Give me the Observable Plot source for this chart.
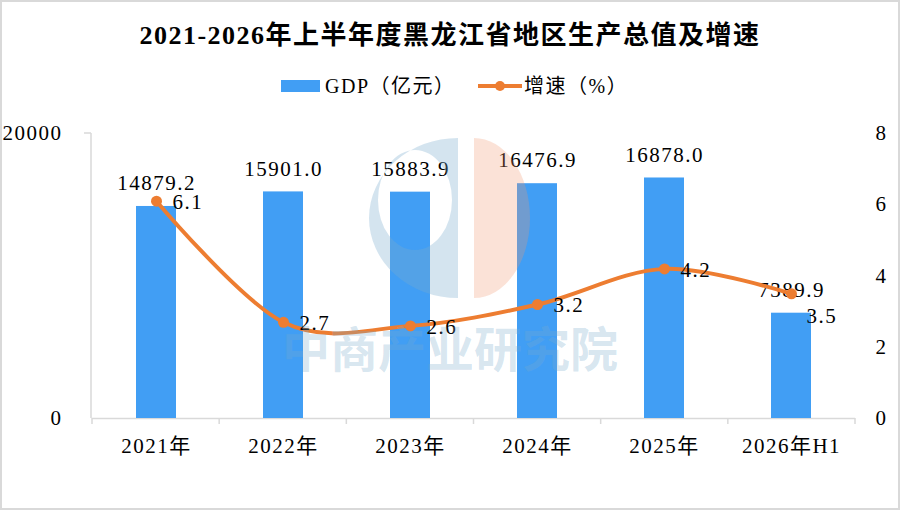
<!DOCTYPE html>
<html>
<head>
<meta charset="utf-8">
<script src="https://cdn.jsdelivr.net/npm/d3@7"></script>
<script src="https://cdn.jsdelivr.net/npm/@observablehq/plot@0.6"></script>
<style>
  html, body { margin: 0; padding: 0; background: #fff; }
  #page { position: relative; width: 900px; height: 510px; overflow: hidden; background: #fff;
          font-family: "Liberation Serif", "Noto Sans CJK SC", serif; }
  #border { position: absolute; left: 0; top: 0; width: 900px; height: 510px; box-sizing: border-box;
            border: 2px solid #d9d9d9; pointer-events: none; z-index: 5; }
  #title { position: absolute; left: 0; top: 20px; width: 900px; text-align: center;
           font-family: "Liberation Serif", "Noto Sans CJK SC", serif; font-weight: bold; font-size: 26px;
           letter-spacing: 1.5px; line-height: 32px; color: #000; }
  #legend { position: absolute; left: 0; top: 74px; width: 900px; height: 24px; }
  .lg { position: absolute; top: 0; font-size: 20px; letter-spacing: 1.5px; line-height: 24px; color: #000; }
  #chart { position: absolute; left: 0; top: 110px; }
  #wm { position: absolute; left: 0; top: 0; z-index: 3; pointer-events: none; }
</style>
</head>
<body>
<div id="page">
  <div id="title">2021-2026年上半年度黑龙江省地区生产总值及增速</div>
  <div id="legend">
    <div style="position:absolute;left:281px;top:6px;width:39px;height:12px;background:#419ef4;"></div>
    <div class="lg" style="left:325px;">GDP（亿元）</div>
    <svg style="position:absolute;left:476px;top:0;" width="48" height="24">
      <line x1="2" y1="12" x2="46" y2="12" stroke="#ed7d31" stroke-width="4"/>
      <circle cx="24" cy="12" r="5" fill="#ed7d31"/>
    </svg>
    <div class="lg" style="left:524px;">增速（%）</div>
  </div>
  <div id="chart"></div>
  <svg id="wm" width="900" height="510">
    <path d="M458,138 A89,80 0 0,0 458,298 Z M415,200 m-37,0 a37,50 0 1,0 74,0 a37,50 0 1,0 -74,0 Z"
          fill="rgb(120,170,205)" fill-opacity="0.32" fill-rule="evenodd"/>
    <path d="M474,138 A56,80 0 0,1 474,298 Z" fill="rgb(240,150,110)" fill-opacity="0.28"/>
    <text x="450" y="367" text-anchor="middle" font-family="Noto Sans CJK SC" font-weight="bold"
          font-size="48" fill="rgb(120,170,205)" fill-opacity="0.3">中商产业研究院</text>
  </svg>
  <div id="border"></div>
</div>
<script>
const years = ["2021年", "2022年", "2023年", "2024年", "2025年", "2026年H1"];
const gdp = [14879.2, 15901.0, 15883.9, 16476.9, 16878.0, 7389.9];
const rate = [6.1, 2.7, 2.6, 3.2, 4.2, 3.5];
const leftTicks = [0, 20000];
const rightTicks = [0, 2, 4, 6, 8];

const data = years.map((y, i) => ({year: y, gdp: gdp[i], rate: rate[i], i}));
const k = 20000 / 8; // right axis (rate) mapped onto GDP axis

const W = 900, H = 400, ML = 92, MR = 45, MT = 23, MB = 92;
const font = "Liberation Serif, Noto Sans CJK SC, serif";

const chart = Plot.plot({
  width: W, height: H,
  marginLeft: ML, marginRight: MR, marginTop: MT, marginBottom: MB,
  style: {fontFamily: font, fontSize: "21px", color: "#000", background: "transparent",
          overflow: "visible", letterSpacing: "1.5px"},
  x: {domain: years, paddingInner: 0.685, paddingOuter: 0.3425, label: null},
  y: {domain: [0, 20000], label: null},
  marks: [
    Plot.ruleY([0], {stroke: "#d9d9d9", strokeWidth: 1.5}),
    Plot.barY(data, {x: "year", y: "gdp", fill: "#419ef4"}),
    Plot.text(data, {x: "year", y: "gdp", text: d => d.gdp.toFixed(1), dy: -23, fontSize: 21, fill: "#000"}),
    Plot.line(data, {x: "year", y: d => d.rate * k, stroke: "#ed7d31", strokeWidth: 4, curve: "cardinal", tension: 0}),
    Plot.dot(data, {x: "year", y: d => d.rate * k, r: 5.5, fill: "#ed7d31"}),
    Plot.text(data.filter(d => d.i < 5), {x: "year", y: d => d.rate * k, text: d => d.rate.toFixed(1),
      dx: 16, dy: 1, textAnchor: "start", fontSize: 21, fill: "#000"}),
    Plot.text(data.filter(d => d.i === 5), {x: "year", y: d => d.rate * k, text: d => d.rate.toFixed(1),
      dx: 15, dy: 22, textAnchor: "start", fontSize: 21, fill: "#000"}),
    Plot.axisY({anchor: "left", ticks: leftTicks, tickFormat: v => String(v), tickSize: 0, tickPadding: 30,
      fontSize: 21, label: null}),
    Plot.axisY({anchor: "right", ticks: rightTicks.map(v => v * k), tickFormat: v => String(v / k),
      tickSize: 0, tickPadding: 20, fontSize: 21, label: null}),
    Plot.axisX({tickSize: 0, tickPadding: 20, fontSize: 21, label: null})
  ]
});
document.getElementById("chart").appendChild(chart);

// left axis line, top tick, and category boundary ticks
const svg = d3.select(chart);
const y0 = H - MB, yTop = MT;
const g = svg.append("g").attr("stroke", "#d9d9d9").attr("stroke-width", 1.5);
g.append("line").attr("x1", ML - 1).attr("x2", ML - 1).attr("y1", yTop).attr("y2", y0);
g.append("line").attr("x1", ML - 8).attr("x2", ML - 1).attr("y1", yTop).attr("y2", yTop);
const step = (W - ML - MR) / years.length;
d3.range(years.length + 1).forEach(i => {
  const x = ML + i * step;
  g.append("line").attr("x1", x).attr("x2", x).attr("y1", y0).attr("y2", y0 + 6);
});
</script>
</body>
</html>
